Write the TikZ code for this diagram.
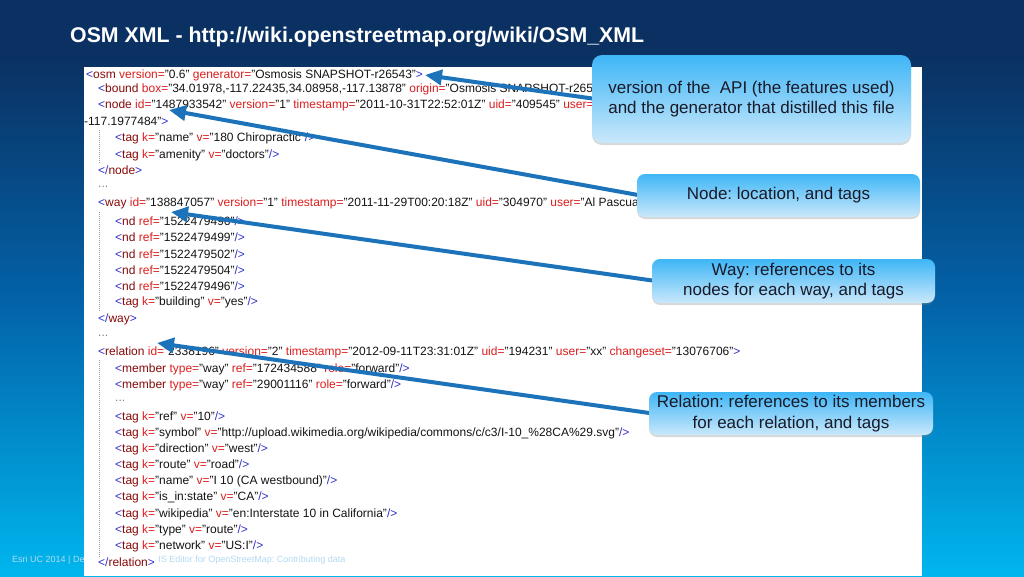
\documentclass[tikz,border=0pt]{standalone}
\usepackage{fontspec}
\setmainfont{Liberation Sans}
\usetikzlibrary{arrows.meta,shadows}
\definecolor{bgTop}{RGB}{11,49,98}
\definecolor{bgMid}{RGB}{3,98,168}
\definecolor{bgBot}{RGB}{0,182,238}
\definecolor{coTop}{RGB}{62,182,246}
\definecolor{coBot}{RGB}{202,232,251}
\definecolor{arrowBlue}{RGB}{28,115,185}
\definecolor{xblue}{RGB}{48,48,200}
\definecolor{xname}{RGB}{135,10,10}
\definecolor{xattr}{RGB}{220,30,30}
\definecolor{xval}{RGB}{20,20,20}
\definecolor{guide}{RGB}{150,150,150}
\definecolor{footcol}{RGB}{178,218,242}
\definecolor{cotext}{RGB}{25,25,40}
\pgfdeclareverticalshading{bgshade}{100bp}{color(0bp)=(bgBot); color(25bp)=(bgBot); color(49bp)=(bgMid); color(70bp)=(bgTop); color(100bp)=(bgTop)}
\pgfdeclarelayer{bglayer}
\pgfdeclarelayer{arrlayer}
\pgfsetlayers{bglayer,arrlayer,main}
\newcommand\xmlO[1]{\textcolor{xblue}{<}\textcolor{xname}{#1}}
\newcommand\xmlA[2]{\space\textcolor{xattr}{#1=}"#2"}
\newcommand\xmlE{\textcolor{xblue}{/>}}
\newcommand\xmlG{\textcolor{xblue}{>}}
\newcommand\xmlC[1]{\textcolor{xblue}{</}\textcolor{xname}{#1}\textcolor{xblue}{>}}
\frenchspacing
\begin{document}
\begin{tikzpicture}[x=1pt,y=-1pt,
  xml/.style={anchor=west, inner sep=0pt, font=\fontsize{12}{14}\selectfont, text=xval},
  dots/.style={xml, text=gray},
  titletext/.style={anchor=west, inner sep=0pt, text=white, font=\fontsize{21.3}{24}\selectfont\bfseries},
  footer/.style={anchor=west, inner sep=0pt, text=footcol, font=\fontsize{9}{11}\selectfont},
  callout/.style={rounded corners=8pt, top color=coTop, bottom color=coBot, align=center,
    text=cotext, font=\fontsize{17}{20.5}\selectfont\frenchspacing, inner sep=0pt,
    drop shadow={shadow xshift=0pt, shadow yshift=-2pt, opacity=0.3}},
  pointer/.style={draw=arrowBlue, line width=4pt, -{Triangle[length=17pt,width=15pt]}},
  guideline/.style={draw=guide, line width=0.7pt, dash pattern=on 1pt off 1pt}]
\useasboundingbox (0,0) rectangle (1024,576);
\begin{pgfonlayer}{bglayer}
\shade[shading=bgshade] (0,0) rectangle (1024,576);
\fill[white] (84,67) rectangle (922,576);
\node[titletext] (title) at (70,37.5) {OSM XML - http://wiki.openstreetmap.org/wiki/OSM\_XML};
\node[xml] (l1) at (86,75) {\xmlO{osm}\xmlA{version}{0.6}\xmlA{generator}{Osmosis SNAPSHOT-r26543}\xmlG};
\node[xml] (l2) at (98,89.5) {\xmlO{bound}\xmlA{box}{34.01978,-117.22435,34.08958,-117.13878}\space\textcolor{xattr}{origin=}"Osmosis SNAPSHOT-r2654};
\node[xml] (l3) at (98,105.5) {\xmlO{node}\xmlA{id}{1487933542}\xmlA{version}{1}\xmlA{timestamp}{2011-10-31T22:52:01Z}\xmlA{uid}{409545}\space\textcolor{xattr}{user=}"};
\node[xml] (l4) at (84,121.5) {-117.1977484"\xmlG};
\node[xml] (l5) at (115,138) {\xmlO{tag}\xmlA{k}{name}\xmlA{v}{180 Chiropractic}\xmlE};
\node[xml] (l6) at (115,155) {\xmlO{tag}\xmlA{k}{amenity}\xmlA{v}{doctors}\xmlE};
\node[xml] (l7) at (98,170.5) {\xmlC{node}};
\node[dots] (l8) at (98,187) {...};
\node[xml] (l9) at (98,203.5) {\xmlO{way}\xmlA{id}{138847057}\xmlA{version}{1}\xmlA{timestamp}{2011-11-29T00:20:18Z}\xmlA{uid}{304970}\space\textcolor{xattr}{user=}"Al Pascual};
\node[xml] (l10) at (115,221) {\xmlO{nd}\xmlA{ref}{1522479496}\xmlE};
\node[xml] (l11) at (115,237.5) {\xmlO{nd}\xmlA{ref}{1522479499}\xmlE};
\node[xml] (l12) at (115,254) {\xmlO{nd}\xmlA{ref}{1522479502}\xmlE};
\node[xml] (l13) at (115,270) {\xmlO{nd}\xmlA{ref}{1522479504}\xmlE};
\node[xml] (l14) at (115,286) {\xmlO{nd}\xmlA{ref}{1522479496}\xmlE};
\node[xml] (l15) at (115,302.5) {\xmlO{tag}\xmlA{k}{building}\xmlA{v}{yes}\xmlE};
\node[xml] (l16) at (98,319) {\xmlC{way}};
\node[dots] (l17) at (98,335.5) {...};
\node[xml] (l18) at (98,352) {\xmlO{relation}\xmlA{id}{2338196}\xmlA{version}{2}\xmlA{timestamp}{2012-09-11T23:31:01Z}\xmlA{uid}{194231}\xmlA{user}{xx}\xmlA{changeset}{13076706}\xmlG};
\node[xml] (l19) at (115,369) {\xmlO{member}\xmlA{type}{way}\xmlA{ref}{172434588}\xmlA{role}{forward}\xmlE};
\node[xml] (l20) at (115,385) {\xmlO{member}\xmlA{type}{way}\xmlA{ref}{29001116}\xmlA{role}{forward}\xmlE};
\node[dots] (l21) at (115,401) {...};
\node[xml] (l22) at (115,417) {\xmlO{tag}\xmlA{k}{ref}\xmlA{v}{10}\xmlE};
\node[xml] (l23) at (115,433) {\xmlO{tag}\xmlA{k}{symbol}\xmlA{v}{http://upload.wikimedia.org/wikipedia/commons/c/c3/I-10\_\%28CA\%29.svg}\xmlE};
\node[xml] (l24) at (115,449) {\xmlO{tag}\xmlA{k}{direction}\xmlA{v}{west}\xmlE};
\node[xml] (l25) at (115,465) {\xmlO{tag}\xmlA{k}{route}\xmlA{v}{road}\xmlE};
\node[xml] (l26) at (115,481) {\xmlO{tag}\xmlA{k}{name}\xmlA{v}{I 10 (CA westbound)}\xmlE};
\node[xml] (l27) at (115,497.5) {\xmlO{tag}\xmlA{k}{is\_in:state}\xmlA{v}{CA}\xmlE};
\node[xml] (l28) at (115,514) {\xmlO{tag}\xmlA{k}{wikipedia}\xmlA{v}{en:Interstate 10 in California}\xmlE};
\node[xml] (l29) at (115,530) {\xmlO{tag}\xmlA{k}{type}\xmlA{v}{route}\xmlE};
\node[xml] (l30) at (115,546) {\xmlO{tag}\xmlA{k}{network}\xmlA{v}{US:I}\xmlE};
\node[xml] (l31) at (98,562) {\xmlC{relation}};
\draw[guideline] (99,130) -- (99,163);
\draw[guideline] (99,212) -- (99,311);
\draw[guideline] (99,360) -- (99,557);
\begin{scope}
\clip (0,545) rectangle (84,576) (158,545) rectangle (420,576);
\node[footer] (foot) at (12,560) {Esri UC 2014 | Demo Theater | ArcGIS Editor for OpenStreetMap: Contributing data};
\end{scope}
\end{pgfonlayer}
\node[callout, rounded corners=10pt, minimum width=319pt, minimum height=88pt] (c1) at (751.5,99) {version of the\ \ API (the features used)\\ and the generator that distilled this file};
\node[callout, minimum width=283pt, minimum height=43pt] (c2) at (778.5,195.5) {Node: location, and tags};
\node[callout, minimum width=283pt, minimum height=44pt] (c3) at (793.5,281) {Way: references to its\\ nodes for each way, and tags};
\node[callout, minimum width=284pt, minimum height=43pt] (c4) at (791,413.5) {Relation: references to its members\\ for each relation, and tags};
\begin{pgfonlayer}{arrlayer}
\coordinate (t1) at (425,75);
\coordinate (t2) at (169,110);
\coordinate (t3) at (171,212);
\coordinate (t4) at (157,343);
\draw[pointer] ([xshift=4pt]c1.west) -- (t1);
\draw[pointer] ([xshift=4pt]c2.west) -- (t2);
\draw[pointer] ([xshift=4pt]c3.west) -- (t3);
\draw[pointer] ([xshift=4pt]c4.west) -- (t4);
\end{pgfonlayer}
\end{tikzpicture}
\end{document}
